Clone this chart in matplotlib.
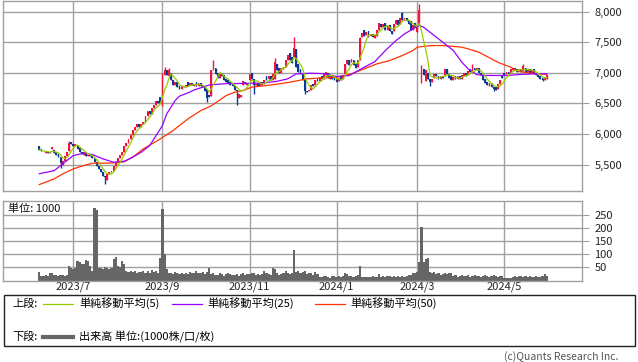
import matplotlib
matplotlib.use("Agg")
import matplotlib.pyplot as plt
from matplotlib.lines import Line2D
from matplotlib.patches import Rectangle
from matplotlib.ticker import FuncFormatter
import numpy as np
import pandas as pd

plt.rcParams['font.family'] = ['Noto Sans CJK JP', 'DejaVu Sans']

# ---- trading calendar (TSE) ----
start_date = "2023-06-09"
end_date = "2024-05-31"
jp_holidays = ["2023-07-17", "2023-08-11", "2023-09-18", "2023-10-09", "2023-11-03",
               "2023-11-23", "2024-01-01", "2024-01-02", "2024-01-03", "2024-01-08",
               "2024-02-12", "2024-02-23", "2024-03-20", "2024-04-29", "2024-05-03",
               "2024-05-06"]

# ---- daily prices ----
opens = [5800, 5760, 5710, 5690, 5700, 5690, 5760, 5730, 5700, 5680,
         5620, 5500, 5560, 5640, 5720, 5870, 5830, 5800, 5820, 5770,
         5710, 5660, 5700, 5640, 5660, 5640, 5600, 5540, 5480, 5430,
         5380, 5320, 5250, 5340, 5380, 5400, 5480, 5540, 5600, 5650,
         5700, 5800, 5860, 5920, 5980, 6060, 6120, 6160, 6110, 6170,
         6200, 6290, 6380, 6330, 6420, 6480, 6540, 6600, 6480, 6960,
         7040, 6950, 7000, 6880, 6800, 6850, 6780, 6740, 6790, 6760,
         6850, 6800, 6840, 6790, 6850, 6780, 6840, 6800, 6780, 6740,
         6640, 6620, 7040, 7080, 6990, 6920, 6990, 6960, 6900, 6880,
         6850, 6820, 6780, 6720, 6590, 6600, 6800, 6850, 6800, 6880,
         6990, 6900, 6800, 6830, 6790, 6850, 6820, 6950, 6900, 6950,
         6880, 6900, 7150, 7080, 7000, 7060, 7100, 7200, 7320, 7250,
         7260, 7380, 7150, 7060, 7000, 6880, 6700, 6700, 6720, 6820,
         6800, 6900, 6870, 6940, 6900, 6960, 6990, 6900, 6950, 6920,
         6900, 6870, 6930, 6900, 6980, 7150, 7200, 7180, 7200, 7140,
         7100, 7200, 7580, 7700, 7620, 7680, 7600, 7640, 7560, 7600,
         7700, 7800, 7740, 7820, 7700, 7780, 7680, 7680, 7800, 7860,
         7800, 7980, 7860, 7900, 7860, 7850, 7700, 7820, 7660, 7780,
         6860, 7060, 6860, 7000, 6900, 6850, 6920, 6980, 6940, 6900,
         6950, 6940, 7060, 6980, 6940, 6880, 6940, 6900, 6950, 6890,
         6940, 7000, 6960, 7060, 7020, 7080, 7040, 7080, 7000, 6960,
         6900, 6850, 6780, 6840, 6760, 6760, 6740, 6820, 6960, 7000,
         6980, 7020, 6990, 7040, 7080, 7060, 7040, 7060, 7030, 7080,
         7020, 7060, 7000, 7060, 7000, 6970, 6940, 6920, 6880, 6900]
closes = [5740, 5720, 5700, 5700, 5690, 5700, 5780, 5690, 5660, 5620,
          5530, 5560, 5640, 5700, 5860, 5830, 5810, 5830, 5760, 5700,
          5680, 5700, 5640, 5650, 5640, 5600, 5540, 5480, 5430, 5380,
          5320, 5290, 5340, 5380, 5400, 5480, 5540, 5600, 5650, 5700,
          5800, 5860, 5920, 5980, 6060, 6120, 6160, 6110, 6170, 6200,
          6290, 6380, 6330, 6420, 6480, 6540, 6500, 6500, 6970, 7050,
          6960, 7040, 6880, 6800, 6850, 6760, 6740, 6780, 6760, 6800,
          6790, 6840, 6800, 6820, 6780, 6830, 6790, 6760, 6700, 6580,
          6600, 7040, 7100, 6980, 6920, 6980, 6940, 6880, 6850, 6830,
          6800, 6780, 6720, 6700, 6650, 6640, 6860, 6810, 6840, 6980,
          6900, 6800, 6820, 6790, 6850, 6800, 6880, 6880, 6950, 6880,
          6980, 7180, 7050, 7000, 7080, 7100, 7200, 7290, 7200, 7160,
          7400, 7100, 7020, 7000, 6880, 6700, 6680, 6720, 6800, 6780,
          6880, 6860, 6930, 6900, 6980, 7020, 6920, 6950, 6900, 6880,
          6850, 6920, 6880, 6960, 7150, 7200, 7130, 7220, 7120, 7080,
          7200, 7560, 7650, 7600, 7660, 7580, 7640, 7580, 7620, 7700,
          7820, 7740, 7800, 7700, 7780, 7680, 7640, 7800, 7860, 7780,
          7900, 7860, 7900, 7840, 7800, 7700, 7780, 7740, 7780, 8030,
          7080, 6960, 7040, 6900, 6850, 6900, 6980, 6940, 6900, 6950,
          6920, 7060, 6980, 6920, 6880, 6930, 6900, 6950, 6890, 6960,
          7000, 6950, 7030, 7010, 7100, 7040, 7070, 7000, 6960, 6880,
          6830, 6800, 6840, 6760, 6740, 6720, 6820, 6880, 6920, 6960,
          7020, 6980, 7060, 7080, 7040, 7020, 7060, 7020, 7110, 7020,
          7060, 7000, 7050, 7000, 6960, 6930, 6900, 6880, 6920, 6960]
# notable shadows: index -> (high, low)
wicks = {6: (5790, 5750), 10: (5620, 5450), 14: (5880, 5720), 31: (5320, 5190),
         58: (6990, 6460), 59: (7100, 6960), 61: (7080, 6950), 79: (6740, 6520),
         82: (7200, 7040), 93: (6720, 6470), 101: (6900, 6650), 111: (7240, 6900),
         120: (7580, 7250), 125: (6880, 6660), 151: (7590, 7200), 171: (8000, 7860),
         179: (8120, 7780), 180: (7120, 6840), 184: (6900, 6780), 204: (7140, 7020),
         214: (6760, 6700), 228: (7140, 7030), 237: (6920, 6860)}

# ---- moving averages (index, value) ----
ma25_idx = [0, 7, 11, 16, 21, 25, 30, 35, 40, 44, 48, 52, 55, 58, 60, 62, 64, 66, 70, 73,
            76, 80, 87, 95, 105, 112, 117, 121, 128, 134, 140, 146, 153, 158, 163, 168,
            172, 176, 179, 181, 185, 190, 195, 199, 202, 206, 210, 220, 226, 232, 239]
ma25_val = [5350, 5400, 5511, 5647, 5685, 5663, 5592, 5538, 5554, 5620, 5701, 5810, 5974,
            6137, 6328, 6437, 6546, 6617, 6671, 6720, 6753, 6800, 6820, 6825, 6830, 6860,
            6900, 6981, 6992, 6985, 6938, 6954, 7090, 7180, 7363, 7526, 7635, 7717, 7771,
            7744, 7635, 7499, 7363, 7172, 7063, 6970, 6955, 6955, 6970, 6981, 6985]
ma50_idx = [0, 7, 11, 16, 21, 25, 30, 35, 40, 44, 49, 57, 63, 70, 76, 81, 88, 92, 96, 100,
            107, 113, 118, 126, 134, 140, 147, 153, 159, 165, 171, 176, 178, 181, 185, 190,
            195, 199, 202, 207, 210, 216, 222, 226, 232, 239]
ma50_val = [5173, 5266, 5347, 5429, 5484, 5522, 5522, 5527, 5545, 5620, 5756, 5919, 6055,
            6246, 6380, 6460, 6627, 6682, 6709, 6764, 6791, 6818, 6845, 6900, 6916, 6927,
            6981, 7063, 7145, 7199, 7281, 7363, 7417, 7430, 7444, 7444, 7430, 7417, 7390,
            7335, 7281, 7170, 7090, 7020, 6990, 6975]

# ---- volume (1000 shares) ----
volumes = [34, 19, 18, 20, 19, 29, 29, 22, 20, 19,
           21, 20, 19, 21, 57, 47, 45, 48, 73, 70,
           64, 62, 79, 75, 57, 38, 276, 267, 47, 48,
           45, 50, 47, 44, 48, 83, 89, 57, 50, 73,
           62, 35, 33, 36, 32, 35, 30, 34, 32, 38,
           30, 36, 28, 40, 33, 35, 30, 85, 272, 100,
           45, 30, 28, 25, 32, 27, 24, 30, 26, 28,
           25, 33, 28, 30, 35, 27, 29, 31, 26, 32,
           47, 25, 30, 22, 20, 27, 24, 19, 23, 28,
           25, 20, 22, 26, 18, 24, 27, 21, 25, 23,
           30, 28, 22, 26, 20, 24, 35, 28, 23, 20,
           47, 45, 30, 22, 25, 28, 35, 27, 24, 30,
           118, 32, 38, 28, 33, 35, 25, 28, 30, 22,
           33, 26, 15, 12, 17, 19, 14, 10, 16, 18,
           13, 17, 15, 19, 29, 23, 16, 19, 14, 18,
           22, 57, 13, 15, 12, 14, 13, 16, 12, 14,
           25, 15, 17, 13, 19, 16, 14, 18, 13, 16,
           15, 17, 14, 16, 22, 20, 29, 30, 32, 70,
           204, 70, 83, 85, 34, 30, 32, 25, 28, 22,
           26, 30, 24, 27, 28, 18, 20, 15, 19, 22,
           16, 17, 21, 14, 18, 20, 16, 19, 15, 17,
           21, 18, 14, 16, 20, 17, 15, 19, 16, 9,
           8, 10, 9, 15, 17, 14, 16, 18, 15, 17,
           13, 16, 14, 15, 17, 13, 14, 16, 23, 18]

price_ticks = [5500, 6000, 6500, 7000, 7500, 8000]
vol_ticks = [50, 100, 150, 200, 250]
tick_months = [1, 3, 5, 7, 9, 11]

legend_upper = ["単純移動平均(5)", "単純移動平均(25)", "単純移動平均(50)"]
legend_lower = "出来高 単位:(1000株/口/枚)"

# ---- derived ----
dates = pd.bdate_range(start_date, end_date, freq="C", holidays=jp_holidays)
n = len(closes)
x = np.arange(n)
O = np.array(opens, float)
C = np.array(closes, float)
H = np.maximum(O, C)
L = np.minimum(O, C)
for k, (hv, lv) in wicks.items():
    H[k] = max(H[k], hv)
    L[k] = min(L[k], lv)
ma5 = pd.Series(C).rolling(5, min_periods=1).mean().values

UP = "#f0143c"
DOWN = "#0a3a94"
GRID = "#a0a0a0"
c5, c25, c50 = "#99cc00", "#9900ff", "#ff3300"

# month gridline positions
mpos, mlab = [], []
prev = None
for i, d in enumerate(dates[:n]):
    if prev is not None and d.month != prev and d.month in tick_months:
        mpos.append(i)
        mlab.append(f"{d.year}/{d.month}")
    prev = d.month

W, Hpx = 638, 362
fig = plt.figure(figsize=(W / 100, Hpx / 100), dpi=100)

def fx(px):
    return px / W

def fy(py):
    return 1 - py / Hpx

ax1 = fig.add_axes([fx(3), fy(190.5), fx(579), 190 / Hpx])
ax2 = fig.add_axes([fx(3), fy(280.5), fx(579), 79.5 / Hpx])

xlim = (-17.1, 255.6)
for ax in (ax1, ax2):
    ax.set_xlim(*xlim)
    ax.set_axisbelow(True)
    for s in ax.spines.values():
        s.set_color(GRID)
        s.set_linewidth(1)
    ax.set_xticks(mpos)
    ax.grid(True, color=GRID, linewidth=1)
    ax.yaxis.tick_right()
    ax.tick_params(axis="y", length=5, color=GRID, pad=4, labelsize=8, labelcolor="#222222")

# ---- price panel ----
colors = [UP if c >= o else DOWN for o, c in zip(O, C)]
body_h = np.maximum(np.abs(C - O), 12)
ax1.vlines(x, L, H, colors=colors, linewidth=1, zorder=2)
ax1.bar(x, body_h, bottom=np.minimum(O, C), width=0.85, color=colors, linewidth=0, zorder=2)
ax1.plot(ma50_idx, ma50_val, color=c50, linewidth=0.9, zorder=3)
ax1.plot(ma25_idx, ma25_val, color=c25, linewidth=0.9, zorder=3)
ax1.plot(x, ma5, color=c5, linewidth=0.9, zorder=4)
ax1.set_ylim(5076, 8180)
ax1.set_yticks(price_ticks)
ax1.yaxis.set_major_formatter(FuncFormatter(lambda v, p: f"{int(v):,}"))
ax1.tick_params(axis="x", length=0, labelbottom=False)

# ---- volume panel ----
ax2.bar(x, volumes, width=1.0, color="#666666", linewidth=0, zorder=2)
ax2.set_ylim(0, 303)
ax2.set_yticks(vol_ticks)
ax2.set_xticklabels(mlab)
ax2.tick_params(axis="x", length=0, pad=1, labelsize=8, labelcolor="#222222")
ax2.text(5 / 579, 0.90, "単位: 1000", transform=ax2.transAxes, fontsize=8,
         ha="left", va="center", color="#111111", zorder=5)

# ---- legend box ----
fig.patches.append(Rectangle((fx(3.5), fy(346)), fx(631), (346 - 295) / Hpx,
                             transform=fig.transFigure, fill=False,
                             edgecolor="#222222", linewidth=1))
r1, r2 = 303.5, 336.5
fig.text(fx(12), fy(r1), "上段:", fontsize=8, va="center", ha="left")
fig.text(fx(12), fy(r2), "下段:", fontsize=8, va="center", ha="left")
legend_lines = [(43, 73, c5, legend_upper[0], 79),
                (172, 202, c25, legend_upper[1], 207),
                (315, 345, c50, legend_upper[2], 350)]
for x0, x1, col, lab, tx in legend_lines:
    fig.add_artist(Line2D([fx(x0), fx(x1)], [fy(r1), fy(r1)], color=col, linewidth=0.9,
                          transform=fig.transFigure))
    fig.text(fx(tx), fy(r1), lab, fontsize=8, va="center", ha="left")
fig.add_artist(Line2D([fx(43), fx(73)], [fy(r2), fy(r2)], color="#666666", linewidth=3,
                      transform=fig.transFigure))
fig.text(fx(79), fy(r2), legend_lower, fontsize=8, va="center", ha="left")

fig.text(fx(618), fy(357), "(c)Quants Research Inc.", fontsize=7.5, ha="right",
         va="center", color="#555555")

fig.savefig("out.png", dpi=100)
